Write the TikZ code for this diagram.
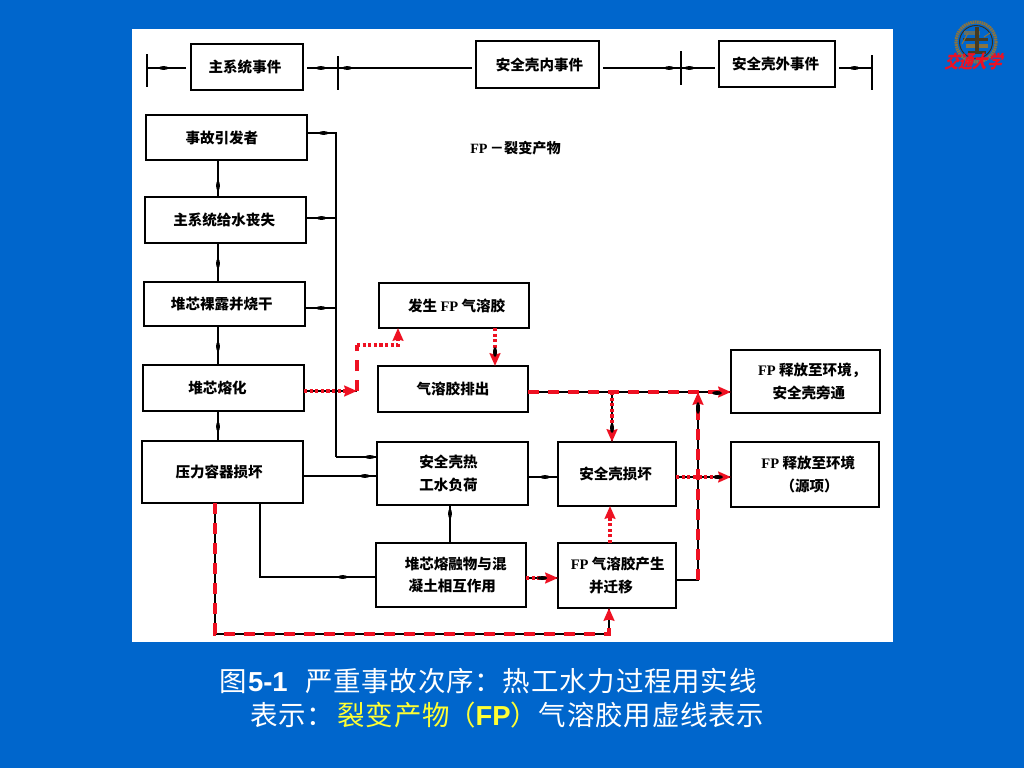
\documentclass[tikz,border=0pt]{standalone}
\usepackage{fontspec}
\setmainfont{Liberation Serif}
\newfontfamily\cjk{Noto Sans CJK SC}
\newfontfamily\capl{Liberation Sans}[BoldFont={Liberation Sans Bold}]
\usetikzlibrary{arrows.meta,decorations.markings,calc}
\definecolor{slide}{HTML}{0066CC}
\definecolor{fpred}{HTML}{EE1122}
\definecolor{capyel}{HTML}{FFFF33}
\definecolor{logogold}{HTML}{8A7440}
\newcommand{\fp}{{\rmfamily\bfseries FP}}
\newcommand{\bx}[6]{%
  \pgfmathsetmacro{\bw}{(#4-#2)*0.75}\pgfmathsetmacro{\bh}{(#5-#3)*0.75}%
  \node[boxn,minimum width=\bw pt,minimum height=\bh pt] (#1) at ({(#2+#4)/2},{(#3+#5)/2}) {#6};}
\tikzset{
  x=0.75pt,y=-0.75pt,
  boxn/.style={draw=black,fill=white,line width=1.5pt,inner sep=0pt,outer sep=0pt,align=center,
    font=\fontsize{10.9pt}{17pt}\selectfont\cjk\bfseries},
  wire/.style={draw=black,line width=1.1pt},
  tickline/.style={draw=black,line width=1.2pt},
  mk/.style={postaction={decorate,decoration={markings,
    mark=at position #1 with {\fill[black] (-7,0) .. controls (-3,2.6) and (1,2.6) .. (5,0) .. controls (1,-2.6) and (-3,-2.6) .. (-7,0) -- cycle;}}}},
  rdash/.style={draw=fpred,line width=2.8pt,dash pattern=on 8.5pt off 6.5pt},
  rdot/.style={draw=fpred,line width=2.6pt,dash pattern=on 2.4pt off 1.8pt},
  rtip/.style={-{Stealth[length=9.5pt,width=8pt,inset=1pt,fpred]}},
  captxt/.style={anchor=west,inner sep=0pt,white,font=\fontsize{20.6pt}{24pt}\selectfont\cjk},
}
\begin{document}
\begin{tikzpicture}
\useasboundingbox (0,0) rectangle (1024,768);
\fill[slide] (0,0) rectangle (1024,768);
\fill[white] (132,29) rectangle (893,642);

% header boxes
\bx{hmain}{191}{44}{303}{90}{\hspace*{-3pt}主系统事件}
\bx{hin}{476}{41}{599}{88}{\hspace*{3pt}安全壳内事件}
\bx{hout}{719}{41}{835}{87}{\hspace*{-2pt}安全壳外事件}
% ticks
\coordinate (ta) at (147,68); \coordinate (tb) at (338,68);
\coordinate (tc) at (681,68); \coordinate (td) at (872,68);
\draw[tickline] (147,54) -- (147,87);
\draw[tickline] (338,56) -- (338,90);
\draw[tickline] (681,51) -- (681,85);
\draw[tickline] (872,55) -- (872,90);
\draw[wire,mk=0.6] ($(hmain.west |- ta)+(-5,0)$) -- (ta);
\draw[wire,mk=0.09,mk=0.25] ($(hmain.east |- ta)+(4,0)$) -- ($(hin.west |- ta)+(-4,0)$);
\draw[wire,mk=0.6,mk=0.78] ($(hin.east |- tc)+(4,0)$) -- ($(hout.west |- tc)+(-4,0)$);
\draw[wire,mk=0.5] ($(hout.east |- td)+(4,0)$) -- (td);

\node[inner sep=0pt,font=\fontsize{10.6pt}{12pt}\selectfont\cjk\bfseries] (legend) at (515.5,148) {\fp\,－裂变产物};

% left column
\bx{init}{146}{115}{307}{160}{\hspace*{-7pt}事故引发者}
\bx{feed}{145}{197}{306}{243}{\hspace*{-2pt}主系统给水丧失}
\bx{dry}{144}{282}{305}{326}{\hspace*{-4pt}堆芯裸露并烧干}
\bx{melt}{143}{365}{304}{411}{\hspace*{-9pt}堆芯熔化}
\bx{rpv}{142}{441}{303}{503}{\hspace*{-5pt}压力容器损坏}
% middle column
\bx{gen}{379}{283}{529}{328}{\hspace*{4pt}发生 \fp\ 气溶胶}
\bx{vent}{378}{366}{528}{412}{气溶胶排出}
\bx{load}{377}{442}{528}{505}{\hspace*{-6pt}安全壳热\\\hspace*{-6pt}工水负荷}
\bx{mcci}{376}{543}{526}{607}{\hspace*{7pt}堆芯熔融物与混\\\hspace*{2pt}凝土相互作用}
% right columns
\bx{fail}{558}{442}{676}{506}{\hspace*{-2pt}安全壳损坏}
\bx{aero}{558}{543}{676}{608}{\hspace*{1pt}\fp\ 气溶胶产生\\\hspace*{-9pt}并迁移}
\bx{byp}{731}{350}{880}{413}{\hspace*{10pt}\fp\ 释放至环境，\\\hspace*{5pt}安全壳旁通}
\bx{src}{731}{442}{879}{507}{\hspace*{5pt}\fp\ 释放至环境\\\hspace*{7pt}（源项）}

% black process lines
\coordinate (cx) at (218,0);
\coordinate (bus) at (336,0);
\draw[wire,mk=0.72] (cx |- init.south) -- (cx |- feed.north);
\draw[wire,mk=0.55] (cx |- feed.south) -- (cx |- dry.north);
\draw[wire,mk=0.55] (cx |- dry.south) -- (cx |- melt.north);
\draw[wire,mk=0.55] (cx |- melt.south) -- (cx |- rpv.north);
\draw[wire,mk=0.05] (init.east |- 0,133) -- (bus |- 0,133) -- (bus |- 0,457);
\draw[wire,mk=0.55] (feed.east |- 0,218) -- (bus |- 0,218);
\draw[wire,mk=0.55] (dry.east |- 0,308) -- (bus |- 0,308);
\draw[wire,mk=0.85] (bus |- 0,457) -- (load.west |- 0,457);
\draw[wire,mk=0.85] (rpv.east |- 0,476) -- (load.west |- 0,476);
\draw[wire,mk=0.83] (260,0 |- rpv.south) -- (260,577) -- (mcci.west |- 0,577);
\draw[wire,mk=0.8] (450,0 |- mcci.north) -- (450,0 |- load.south);
\draw[wire,mk=0.6] (load.east |- 0,477) -- (fail.west |- 0,477);

% black under the red lines
\draw[wire] (melt.east |- 0,391) -- (357,391);
\draw[wire] (vent.east |- 0,392) -- (byp.west |- 0,392);
\draw[wire] (612,392) -- (612,0 |- fail.north);
\draw[wire] (aero.east |- 0,580) -- (698,580) -- (698,392);
\draw[wire] (fail.east |- 0,477) -- (src.west |- 0,477);
\draw[wire] (215,0 |- rpv.south) -- (215,634) -- (609,634) -- (609,0 |- aero.south);
\draw[wire] (mcci.east |- 0,578) -- (aero.west |- 0,578);

% red aerosol lines
\draw[rdot,rtip] (melt.east |- 0,391) -- (357,391);
\draw[rdash] (357,391) -- (357,345);
\draw[rdot,rtip] (357,345) -- (398,345) -- (398,0 |- gen.south);
\draw[rdot,rtip] (495,0 |- gen.south) -- (495,0 |- vent.north);
\draw[rdash,rtip] (vent.east |- 0,392) -- (byp.west |- 0,392);
\draw[rdot,rtip] (612,392) -- (612,0 |- fail.north);
\draw[rdash,rtip] (698,580) -- (698,392);
\draw[rdot,rtip] (fail.east |- 0,477) -- (src.west |- 0,477);
\draw[rdot,rtip] (610,0 |- aero.north) -- (610,0 |- fail.south);
\draw[rdot,rtip] (mcci.east |- 0,578) -- (aero.west |- 0,578);
\draw[rdash,rtip] (215,0 |- rpv.south) -- (215,634) -- (609,634) -- (609,0 |- aero.south);

% black marks left visible on the red lines
\fill[black] (698,408) ellipse (2 and 6);
\fill[black] (612,428) ellipse (2 and 5);
\fill[black] (495,352) ellipse (2 and 5);
\fill[black] (542,578) ellipse (5 and 2);
\fill[black] (718,477) ellipse (5 and 2);
\fill[black] (717,393) ellipse (5 and 2);

% caption
\node[captxt] (cap1) at (219,681) {图\hspace{1pt}{\capl\bfseries 5-1}\hspace{13pt}严\hspace{0.6pt}重\hspace{0.6pt}事\hspace{0.6pt}故\hspace{0.6pt}次\hspace{0.6pt}序\hspace{0.6pt}：\hspace{0.6pt}热\hspace{0.6pt}工\hspace{0.6pt}水\hspace{0.6pt}力\hspace{0.6pt}过\hspace{0.6pt}程\hspace{0.6pt}用\hspace{0.6pt}实\hspace{0.6pt}线};
\node[captxt] (cap2) at (250,715) {表\hspace{0.6pt}示\hspace{0.6pt}：\hspace{2.6pt}\textcolor{capyel}{裂\hspace{0.6pt}变\hspace{0.6pt}产\hspace{0.6pt}物\hspace{-1.4pt}（{\capl\bfseries FP}）}\hspace{0.6pt}气\hspace{0.6pt}溶\hspace{0.6pt}胶\hspace{0.6pt}用\hspace{0.6pt}虚\hspace{0.6pt}线\hspace{0.6pt}表\hspace{0.6pt}示};

% emblem
\draw[logogold,line width=2.4pt,dash pattern=on 1.2pt off 0.5pt] (976,42) circle (20);
\draw[black!60!logogold,line width=0.7pt] (976,42) circle (16.5);
\fill[logogold!70!slide] (964,31) rectangle (980,35);
\fill[black!50!logogold] (963,38) rectangle (988,41);
\fill[logogold] (966,44) rectangle (988,48);
\fill[black!50!logogold] (968,51) rectangle (986,54);
\fill[black!50!logogold] (975,27) rectangle (979,52);
\draw[logogold,line width=0.8pt] (984,37) -- (990,33) (962,44) -- (968,33);
\node[inner sep=0pt,xslant=0.3,yscale=1.25,text=fpred,font=\fontsize{10.8pt}{12pt}\selectfont\cjk\bfseries] (emblemtext) at (975,62) {交通大学};
\end{tikzpicture}
\end{document}
